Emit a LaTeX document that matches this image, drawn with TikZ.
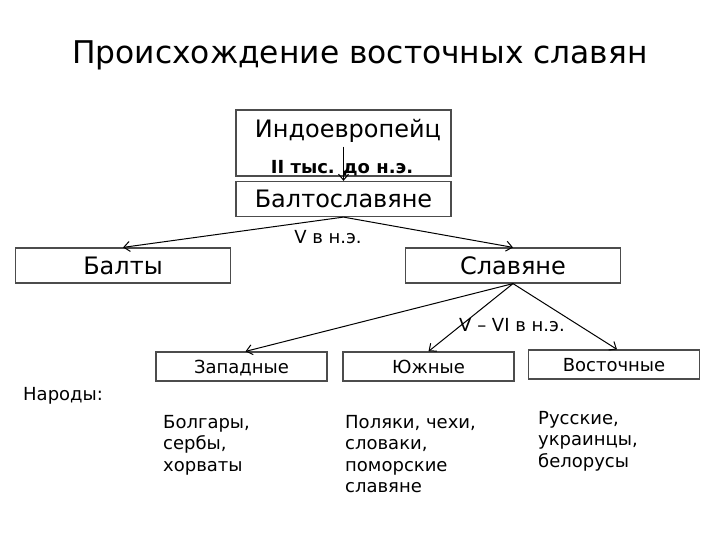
\documentclass[tikz,border=0pt]{standalone}
\usepackage{fontspec}
\setmainfont{DejaVu Sans}
\usetikzlibrary{positioning, arrows.meta}

\begin{document}
\begin{tikzpicture}[x=1pt, y=-1pt,
	box/.style={rectangle, draw=black!70, line width=1.2pt, inner sep=0pt},
	bigbox/.style={box, minimum width=215pt, minimum height=35pt, font=\fontsize{24}{28}\selectfont},
	smallbox/.style={box, minimum width=171pt, minimum height=29pt, text depth=0pt, font=\fontsize{18}{21}\selectfont},
	lbl/.style={font=\fontsize{18}{21}\selectfont},
	link/.style={-{Straight Barb[length=6pt, width=10pt]}, line width=1pt},
	folk/.style={align=left, anchor=north west, inner sep=0pt, font=\fontsize{18}{21.5}\selectfont}]
		
		\useasboundingbox (0,0) rectangle (720,540);
		
		\node (title) at (360,55) {\fontsize{31.3}{36}\selectfont Происхождение восточных славян};
		
		\node[bigbox, minimum height=66pt] (indo) at (343.5,143) {};
		\node[font=\fontsize{24}{28}\selectfont] (indotxt) at (348,131) {Индоевропейц};
		\node[bigbox] (balto) at (343.5,199) {Балтославяне};
		\node[bigbox] (balty) at (123,265.5) {Балты};
		\node[bigbox] (slav) at (513,265.5) {Славяне};
		
		\node[smallbox] (west) at (241.5,366.5) {Западные};
		\node[smallbox] (south) at (428.5,366.5) {Южные};
		\node[smallbox] (east) at (614,364.5) {Восточные};
		
		\draw[link] ([yshift=30pt]indo.south) -- (balto.north);
		\node[lbl, font=\fontsize{18}{21}\selectfont\bfseries] (t1) at (342,168) {II тыс. до н.э.};
		
		\draw[link] (balto.south) -- (balty.north);
		\draw[link] (balto.south) -- (slav.north);
		\node[lbl] (t2) at (328,237) {V в н.э.};
		
		\draw[link] (slav.south) -- ([xshift=4pt]west.north);
		\draw[link] (slav.south) -- (south.north);
		\draw[link] (slav.south) -- ([xshift=3pt]east.north);
		\node[lbl] (t3) at (512,325) {V – VI в н.э.};
		
		\node[lbl, anchor=west, inner sep=0pt] (folks) at (23,396) {Народы:};
		\node[folk] (f1) at (163,415) {Болгары,\\сербы,\\хорваты};
		\node[folk] (f2) at (345,415) {Поляки, чехи,\\словаки,\\поморские\\славяне};
		\node[folk] (f3) at (538,411) {Русские,\\украинцы,\\белорусы};
		
	\end{tikzpicture}
\end{document}
